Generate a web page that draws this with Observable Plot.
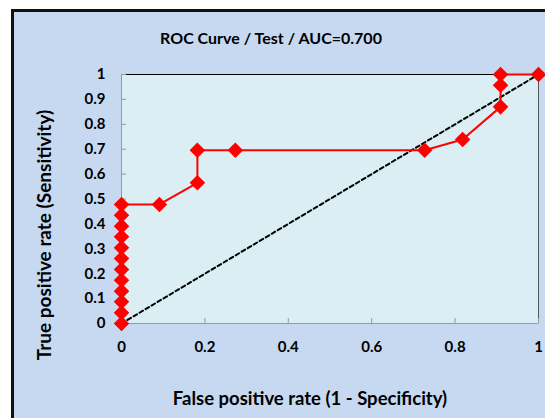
<!DOCTYPE html>
<html><head><meta charset="utf-8">
<script src="https://cdn.jsdelivr.net/npm/d3@7"></script>
<script src="https://cdn.jsdelivr.net/npm/@observablehq/plot@0.6"></script>
<style>
body{margin:0;background:#fff;width:545px;height:418px;overflow:hidden;position:relative;font-family:Lato, sans-serif;}
#frame{position:absolute;left:11px;top:9px;width:560px;height:430px;background:#C6D9F0;border:3px solid #111;box-sizing:border-box;}
#chart{position:absolute;left:0;top:0;}
.t{position:absolute;font-weight:bold;color:#000;white-space:nowrap;}
</style></head><body>
<div id="frame"></div>
<div id="chart"></div>
<div class="t" style="left:271px;top:37px;transform:translate(-50%,-50%);font-size:16px">ROC Curve / Test / AUC=0.700</div>
<div class="t" style="left:310px;top:398px;transform:translate(-50%,-50%);font-size:18.5px">False positive rate (1 - Specificity)</div>
<div class="t" style="left:43px;top:235px;transform:translate(-50%,-50%) rotate(-90deg);font-size:19px">True positive rate (Sensitivity)</div>
<script>
const fpr = [0, 0, 0, 0, 0, 0, 0, 0, 0, 0, 0, 0, 0.091, 0.182, 0.182, 0.273, 0.727, 0.818, 0.909, 0.909, 0.909, 1];
const tpr = [0, 0.043, 0.087, 0.13, 0.174, 0.217, 0.261, 0.304, 0.348, 0.391, 0.435, 0.478, 0.478, 0.565, 0.696, 0.696, 0.696, 0.739, 0.870, 0.957, 1, 1];
const refX = [0, 1];
const refY = [0, 1];
const xTicks = [0, 0.2, 0.4, 0.6, 0.8, 1];
const yTicks = [0, 0.1, 0.2, 0.3, 0.4, 0.5, 0.6, 0.7, 0.8, 0.9, 1];

const rows = fpr.map((x, i) => ({x, y: tpr[i]}));
const ref = refX.map((x, i) => ({x, y: refY[i]}));

const plot = Plot.plot({
  width: 545, height: 418,
  marginLeft: 121, marginRight: 7, marginTop: 74, marginBottom: 95,
  style: {background: "transparent", fontFamily: "Lato, sans-serif", fontWeight: "bold", fontSize: "15px", color: "#000", overflow: "visible"},
  x: {domain: [0, 1], label: null},
  y: {domain: [0, 1], label: null},
  marks: [
    Plot.frame({fill: "#DAEEF3", stroke: null}),
    Plot.ruleY([0], {stroke: "#999"}),
    Plot.ruleX([0], {stroke: "#999"}),
    Plot.ruleY([1], {stroke: "#000"}),
    Plot.ruleX([1], {stroke: "#555"}),
    Plot.axisX(xTicks, {tickSize: 5, dy: -5, text: null, stroke: "#999"}),
    Plot.axisY(yTicks, {tickSize: 5, dx: 5, text: null, stroke: "#999"}),
    Plot.axisX(xTicks, {tickSize: 0, tickPadding: 18, fill: "#000", tickFormat: d => String(d)}),
    Plot.axisY(yTicks, {tickSize: 0, tickPadding: 16, fill: "#000", tickFormat: d => String(d)}),
    Plot.line(ref, {x: "x", y: "y", stroke: "#000", strokeWidth: 2, strokeDasharray: "4,3"}),
    Plot.line(rows, {x: "x", y: "y", stroke: "#FF0000", strokeWidth: 2}),
    Plot.dot(rows, {x: "x", y: "y", symbol: "diamond2", r: 7, fill: "#FF0000", stroke: null})
  ]
});
document.getElementById("chart").appendChild(plot);
</script>
</body></html>
